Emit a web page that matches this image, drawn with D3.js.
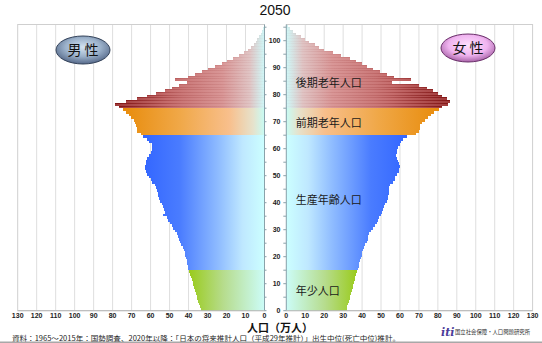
<!DOCTYPE html>
<html>
<head>
<meta charset="utf-8">
<script src="https://cdn.jsdelivr.net/npm/d3@7/dist/d3.min.js"></script>
<style>
body { margin: 0; background: #fff; }
svg { display: block; }
</style>
</head>
<body>
<svg id="chart" width="542" height="343"></svg>
<script>
/* 2050 population pyramid (10k persons by single age) */

let title = '2050';

// male population by age 0..105 (万人)
let male = [
	33.6, 34.0, 34.4, 34.9, 35.4, 35.8, 36.2, 36.6, 37.0, 37.5, 37.9, 38.3, 38.7, 39.1, 39.6,
	40.1, 40.4, 40.7, 40.9, 41.3, 41.7, 42.0, 42.6, 43.1, 43.8, 44.5, 45.0, 45.5, 46.0, 47.0,
	48.0, 48.8, 49.7, 50.6, 51.5, 53.6, 52.4, 53.0, 53.6, 54.1, 54.8, 55.6, 55.9, 56.3, 56.7,
	57.4, 57.8, 59.0, 60.0, 60.6, 62.0, 62.6, 62.9, 62.9, 62.6, 62.3, 61.7, 60.6, 60.0, 59.4,
	59.2, 59.4, 60.6, 62.0, 63.8,
	65.0, 67.2, 67.4, 67.6, 68.0, 69.0, 70.5, 71.5, 72.8, 74.3,
	76.5, 78.7, 73.0, 67.3, 62.0, 57.0, 52.5, 48.5, 44.8, 40.6, 47.1, 40.5, 36.5, 33.0, 29.5,
	26.0, 22.5, 19.5, 16.4, 13.5, 11.0, 8.8, 6.9, 5.6, 4.6, 3.8, 2.8, 2.0, 1.3, 0.7, 0.3
];

// female population by age 0..105 (万人)
let female = [
	32.0, 32.3, 32.7, 33.0, 33.4, 33.8, 34.2, 34.6, 35.0, 35.4, 35.8, 36.2, 36.5, 36.9, 37.3,
	37.8, 38.2, 38.6, 39.0, 39.4, 39.8, 40.1, 40.4, 40.8, 41.6, 42.4, 42.9, 43.3, 43.8, 44.9,
	46.0, 46.8, 47.7, 48.5, 49.0, 49.8, 50.4, 51.2, 51.8, 52.2, 53.0, 53.6, 53.8, 54.0, 54.2,
	54.2, 54.8, 56.5, 57.2, 57.6, 58.6, 59.4, 59.7, 59.8, 59.6, 59.2, 58.3, 58.0, 58.3, 58.6,
	58.8, 59.8, 60.7, 61.8, 63.8,
	68.5, 70.0, 70.4, 70.7, 71.6, 73.3, 75.0, 76.5, 78.0, 80.4,
	82.1, 85.6, 86.5, 84.7, 82.3, 80.0, 77.5, 74.2, 70.0, 55.7, 65.8, 57.0, 53.0, 49.5, 46.0,
	42.5, 40.0, 37.0, 33.5, 29.0, 24.5, 20.0, 17.5, 15.3, 12.0, 10.0, 8.0, 5.0, 3.5, 2.0, 0.8
];

let groupNames = ['年少人口', '生産年齢人口', '前期老年人口', '後期老年人口'];
let groupStart = [0, 15, 65, 75];
let ageTicks = [0, 10, 20, 30, 40, 50, 60, 70, 80, 90, 100];
let popTicks = [0, 10, 20, 30, 40, 50, 60, 70, 80, 90, 100, 110, 120, 130];
let axisTitle = '人口（万人）';
let source = '資料：1965～2015年：国勢調査、2020年以降：「日本の将来推計人口（平成29年推計）」出生中位(死亡中位)推計。';
let institute = '国立社会保障・人口問題研究所';

// gradient colours per group, outer -> inner
let groupColors = [
	[[0, '#9acb1c'], [0.45, '#b6dc8c'], [1, '#ccfcf8']],
	[[0, '#3366ff'], [0.3, '#4a7cff'], [0.62, '#8fbcff'], [0.82, '#bfe8ff'], [1, '#ccffff']],
	[[0, '#e88c0c'], [0.4, '#f0a848'], [0.75, '#f8bf8c'], [0.92, '#e6e2cc'], [1, '#c8fcf4']],
	[[0, '#9e3838'], [0.35, '#c56c6c'], [0.72, '#d99797'], [0.9, '#e0c4c4'], [1, '#cff8f8']]
];

let svg = d3.select('#chart'),
	defs = svg.append('defs'),
	ages = d3.range(male.length),
	y = d3.scaleLinear().domain([0, 106]).range([310.7, 24.5]),
	xL = d3.scaleLinear().domain([0, 130]).range([264.5, 17.7]),
	xR = d3.scaleLinear().domain([0, 130]).range([286.3, 532.6]),
	font = 'Arial, "Liberation Sans", sans-serif',
	jfont = '"Noto Sans CJK JP", "Noto Sans", sans-serif';

function groupOf(age) {
	var g = 0, i;
	for (i = 0; i < groupStart.length; i++) {
		if (age >= groupStart[i]) {
			g = i;
		}
	}
	return g;
}

// one gradient per side and group, spanning that group's widest bar
function makeGradients(side, values, x) {
	var i, from, to, maxV, grad;
	for (i = 0; i < groupStart.length; i++) {
		from = groupStart[i];
		to = i + 1 < groupStart.length ? groupStart[i + 1] : values.length;
		maxV = d3.max(values.slice(from, to));
		grad = defs.append('linearGradient')
			.attr('id', side + i)
			.attr('gradientUnits', 'userSpaceOnUse')
			.attr('x1', x(maxV)).attr('x2', x(0))
			.attr('y1', 0).attr('y2', 0);
		grad.selectAll('stop')
			.data(groupColors[i])
			.enter().append('stop')
				.attr('offset', function(d) { return d[0]; })
				.attr('stop-color', function(d) { return d[1]; });
	}
	grad = defs.append('linearGradient')
		.attr('id', side + 'edge')
		.attr('gradientUnits', 'userSpaceOnUse')
		.attr('x1', x(d3.max(values))).attr('x2', x(0))
		.attr('y1', 0).attr('y2', 0);
	grad.append('stop').attr('offset', 0).attr('stop-color', '#7a0c0c').attr('stop-opacity', 0.8);
	grad.append('stop').attr('offset', 0.45).attr('stop-color', '#8a2020').attr('stop-opacity', 0.18);
	grad.append('stop').attr('offset', 1).attr('stop-color', '#8a2020').attr('stop-opacity', 0.02);
}

makeGradients('m', male, xL);
makeGradients('f', female, xR);

// panels and grid
function panel(x) {
	var g = svg.append('g');
	g.selectAll('.grid')
		.data(popTicks.slice(1, -1))
		.enter().append('line')
			.attr('x1', function(d) { return x(d); })
			.attr('x2', function(d) { return x(d); })
			.attr('y1', y(106)).attr('y2', y(0))
			.attr('stroke', '#dedede').attr('stroke-width', 1);
	g.append('rect')
		.attr('x', Math.min(x(0), x(130)))
		.attr('y', y(106))
		.attr('width', Math.abs(x(130) - x(0)))
		.attr('height', y(0) - y(106))
		.attr('fill', 'none')
		.attr('stroke', '#cfcfcf');
}
panel(xL);
panel(xR);

// bars: rows snapped to whole pixels so they tile without seams
function rowTop(a) { return Math.round(y(a + 1)); }
function rowH(a) { return Math.round(y(a)) - Math.round(y(a + 1)); }

function bars(side, values, x) {
	var g = svg.append('g').attr('shape-rendering', 'crispEdges');
	g.selectAll('rect.bar')
		.data(ages)
		.enter().append('rect')
			.attr('class', 'bar')
			.attr('x', function(a) { return Math.min(x(0), x(values[a])); })
			.attr('y', rowTop)
			.attr('width', function(a) { return Math.abs(x(values[a]) - x(0)); })
			.attr('height', rowH)
			.attr('fill', function(a) { return 'url(#' + side + groupOf(a) + ')'; });
	g.selectAll('rect.edge')
		.data(ages.filter(function(a) { return a >= groupStart[3]; }))
		.enter().append('rect')
			.attr('class', 'edge')
			.attr('x', function(a) { return Math.min(x(0), x(values[a])); })
			.attr('y', rowTop)
			.attr('width', function(a) { return Math.abs(x(values[a]) - x(0)); })
			.attr('height', 1)
			.attr('fill', 'url(#' + side + 'edge)');
}
bars('m', male, xL);
bars('f', female, xR);

// middle age axis
svg.append('rect')
	.attr('x', xL(0) + 0.5).attr('y', y(106) - 1)
	.attr('width', xR(0) - xL(0) - 1).attr('height', y(0) - y(106) + 1)
	.attr('fill', '#fff');

[xL(0), xR(0)].forEach(function(px) {
	svg.append('line')
		.attr('x1', px).attr('x2', px)
		.attr('y1', y(106)).attr('y2', y(0))
		.attr('stroke', '#8aa2aa').attr('stroke-width', 1);
});

svg.append('g').selectAll('line')
	.data(d3.range(0, 106, 5))
	.enter().append('line')
		.attr('x1', xR(0) - 3).attr('x2', xR(0))
		.attr('y1', function(d) { return y(d); })
		.attr('y2', function(d) { return y(d); })
		.attr('stroke', '#8aa2aa');

svg.append('g').selectAll('line')
	.data(d3.range(0, 106, 5))
	.enter().append('line')
		.attr('x1', xL(0)).attr('x2', xL(0) + 2)
		.attr('y1', function(d) { return y(d); })
		.attr('y2', function(d) { return y(d); })
		.attr('stroke', '#8aa2aa');

svg.append('g').selectAll('text')
	.data(ageTicks)
	.enter().append('text')
		.attr('x', 280.5)
		.attr('y', function(d) { return y(d) + 2.5; })
		.attr('text-anchor', 'end')
		.style('font', 'bold 7px ' + font)
		.attr('fill', '#222')
		.text(function(d) { return d; });

// bottom axes
[xL, xR].forEach(function(x) {
	svg.append('line')
		.attr('x1', x(0)).attr('x2', x(130))
		.attr('y1', y(0)).attr('y2', y(0))
		.attr('stroke', '#b8b8b8');
	svg.append('g').selectAll('text')
		.data(popTicks)
		.enter().append('text')
			.attr('x', function(d) { return x(d); })
			.attr('y', 318)
			.attr('text-anchor', 'middle')
			.style('font', 'bold 7px ' + font)
			.attr('fill', '#222')
			.text(function(d) { return d; });
});

// group labels (female side)
let labelAge = [7.4, 41, 69.5, 84.3];
svg.append('g').selectAll('text')
	.data(groupNames)
	.enter().append('text')
		.attr('x', xR(5))
		.attr('y', function(d, i) { return y(labelAge[i]) + 4; })
		.style('font', '11px ' + jfont)
		.attr('fill', '#1a1a1a')
		.text(function(d) { return d; });

// sex badges
function badge(id, cx, cy, stops, stroke, label) {
	var grad = defs.append('radialGradient')
		.attr('id', id)
		.attr('cx', '50%').attr('cy', '40%').attr('r', '60%');
	grad.selectAll('stop')
		.data(stops)
		.enter().append('stop')
			.attr('offset', function(d) { return d[0]; })
			.attr('stop-color', function(d) { return d[1]; });
	svg.append('ellipse')
		.attr('cx', cx).attr('cy', cy)
		.attr('rx', 27).attr('ry', 14)
		.attr('fill', 'url(#' + id + ')')
		.attr('stroke', stroke).attr('stroke-width', 1);
	svg.append('text')
		.attr('x', cx).attr('y', cy + 5)
		.attr('text-anchor', 'middle')
		.style('font', '14px ' + jfont)
		.attr('fill', '#111')
		.text(label);
}
badge('mbadge', 83, 50, [[0, '#d4e2f0'], [0.55, '#9bb1ca'], [1, '#56698a']], '#34435a', '男 性');
badge('fbadge', 468, 48, [[0, '#fde0fd'], [0.6, '#f0b4f0'], [1, '#a863a8']], '#6a306a', '女 性');

// title and notes
svg.append('text')
	.attr('x', 275).attr('y', 15)
	.attr('text-anchor', 'middle')
	.style('font', '14px ' + font)
	.attr('fill', '#111')
	.text(title);

svg.append('text')
	.attr('x', 280).attr('y', 331.5)
	.attr('text-anchor', 'middle')
	.style('font', 'bold 11px ' + jfont)
	.attr('fill', '#111')
	.text(axisTitle);

svg.append('text')
	.attr('x', 12).attr('y', 341)
	.attr('textLength', 388)
	.attr('lengthAdjust', 'spacingAndGlyphs')
	.style('font', '7px ' + jfont)
	.attr('fill', '#222')
	.text(source);

svg.append('text')
	.attr('x', 441).attr('y', 336)
	.style('font', 'italic bold 11px "DejaVu Serif", serif')
	.attr('fill', '#4b3c9a')
	.text('iti');

svg.append('text')
	.attr('x', 455).attr('y', 334)
	.attr('textLength', 75)
	.attr('lengthAdjust', 'spacingAndGlyphs')
	.style('font', '6px ' + jfont)
	.attr('fill', '#333')
	.text(institute);

svg.append('rect')
	.attr('x', 0).attr('y', 341.5)
	.attr('width', 542).attr('height', 1.5)
	.attr('fill', '#a8a8a8');
</script>
</body>
</html>
